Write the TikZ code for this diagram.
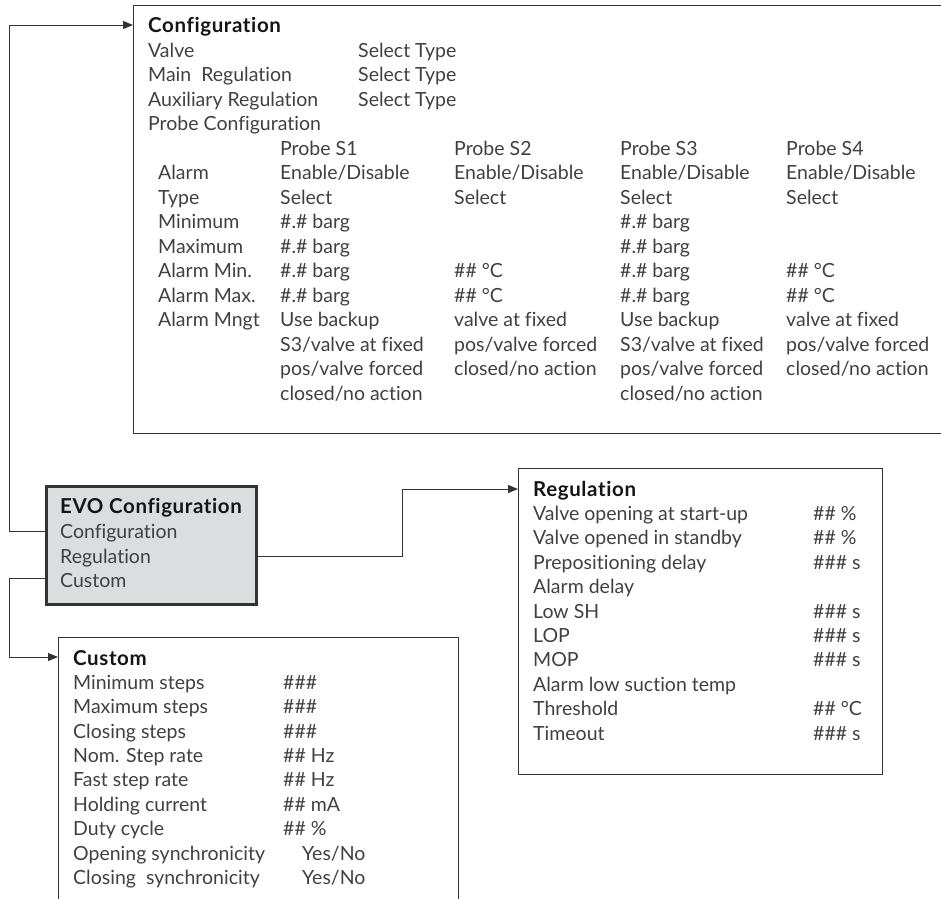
\documentclass[tikz,border=0pt]{standalone}
\usepackage{fontspec}
\setmainfont{Lato}[Ligatures=NoCommon]
\newfontfamily\ttlfont[LetterSpace=3,Ligatures=NoCommon]{Lato}
\usetikzlibrary{arrows.meta}
\definecolor{txt}{HTML}{404040}
\definecolor{ttlc}{HTML}{151515}
\definecolor{linec}{HTML}{333333}
\definecolor{boxfill}{HTML}{DCDDDF}
\begin{document}
\begin{tikzpicture}[x=1pt,y=-1pt,
  lbl/.style={anchor=base west, inner sep=0pt, text=txt, font=\fontsize{19.5}{21}\selectfont},
  ttl/.style={anchor=base west, inner sep=0pt, text=ttlc, font=\ttlfont\fontsize{20.5}{22}\selectfont\bfseries},
  panel/.style={draw=linec, line width=1pt, anchor=north west, inner sep=0pt},
  evobox/.style={panel, fill=boxfill, line width=2.5pt},
  conn/.style={draw=linec, line width=1pt, -{Triangle[length=10pt,width=8pt]}},
  ]
\useasboundingbox (0,0) rectangle (941,898);
\clip (0,0) rectangle (941,898);

% boxes
\node[panel, minimum width=827pt, minimum height=428pt] (cfg) at (133,5) {};
\node[evobox, minimum width=210pt, minimum height=118pt] (evo) at (45,485) {};
\node[panel, minimum width=364pt, minimum height=306pt] (reg) at (518,468) {};
\node[panel, minimum width=400pt, minimum height=300pt] (cus) at (58,637) {};

% connectors
\coordinate (j1) at (9,531); \coordinate (j2) at (9,25);
\draw[conn] (evo.west |- j1) -- (j1) -- (j2) -- (cfg.west |- j2);
\coordinate (j3) at (402,556); \coordinate (j4) at (402,489);
\draw[conn] (evo.east |- j3) -- (j3) -- (j4) -- (reg.west |- j4);
\coordinate (j5) at (9,578); \coordinate (j6) at (9,657);
\draw[conn] (evo.west |- j5) -- (j5) -- (j6) -- (cus.west |- j6);

% EVO
\node[ttl] (e0) at (60,513) {EVO Configuration};
\node[lbl] (e1) at (60,538) {Configuration};
\node[lbl] (e2) at (60,563) {Regulation};
\node[lbl] (e3) at (60,587) {Custom};

% Configuration
\node[ttl] (c0) at (148,32) {Configuration};
\node[lbl] (c1) at (148,57) {Valve};
\node[lbl] (c1v) at (358,57) {Select Type};
\node[lbl] (c2) at (148,81.5) {Main\ \ Regulation};
\node[lbl] (c2v) at (358,81.5) {Select Type};
\node[lbl] (c3) at (148,106) {Auxiliary Regulation};
\node[lbl] (c3v) at (358,106) {Select Type};
\node[lbl] (c4) at (148,130.5) {Probe Configuration};

\node[lbl] (p1) at (280,155) {Probe S1};
\node[lbl] (p2) at (454,155) {Probe S2};
\node[lbl] (p3) at (620,155) {Probe S3};
\node[lbl] (p4) at (786,155) {Probe S4};

\node[lbl] (r1) at (158,179.5) {Alarm};
\node[lbl] (r1a) at (280,179.5) {Enable/Disable};
\node[lbl] (r1b) at (454,179.5) {Enable/Disable};
\node[lbl] (r1c) at (620,179.5) {Enable/Disable};
\node[lbl] (r1d) at (786,179.5) {Enable/Disable};

\node[lbl] (r2) at (158,204) {Type};
\node[lbl] (r2a) at (280,204) {Select};
\node[lbl] (r2b) at (454,204) {Select};
\node[lbl] (r2c) at (620,204) {Select};
\node[lbl] (r2d) at (786,204) {Select};

\node[lbl] (r3) at (158,228.5) {Minimum};
\node[lbl] (r3a) at (280,228.5) {\#.\# barg};
\node[lbl] (r3c) at (620,228.5) {\#.\# barg};

\node[lbl] (r4) at (158,253) {Maximum};
\node[lbl] (r4a) at (280,253) {\#.\# barg};
\node[lbl] (r4c) at (620,253) {\#.\# barg};

\node[lbl] (r5) at (158,277.5) {Alarm Min.};
\node[lbl] (r5a) at (280,277.5) {\#.\# barg};
\node[lbl] (r5b) at (454,277.5) {\#\# °C};
\node[lbl] (r5c) at (620,277.5) {\#.\# barg};
\node[lbl] (r5d) at (786,277.5) {\#\# °C};

\node[lbl] (r6) at (158,302) {Alarm Max.};
\node[lbl] (r6a) at (280,302) {\#.\# barg};
\node[lbl] (r6b) at (454,302) {\#\# °C};
\node[lbl] (r6c) at (620,302) {\#.\# barg};
\node[lbl] (r6d) at (786,302) {\#\# °C};

\node[lbl] (r7) at (158,326.5) {Alarm Mngt};
\node[lbl] (r7a) at (280,326.5) {Use backup};
\node[lbl] (r7b) at (454,326.5) {valve at fixed};
\node[lbl] (r7c) at (620,326.5) {Use backup};
\node[lbl] (r7d) at (786,326.5) {valve at fixed};

\node[lbl] (r8a) at (280,351) {S3/valve at fixed};
\node[lbl] (r8b) at (454,351) {pos/valve forced};
\node[lbl] (r8c) at (620,351) {S3/valve at fixed};
\node[lbl] (r8d) at (786,351) {pos/valve forced};

\node[lbl] (r9a) at (280,375.5) {pos/valve forced};
\node[lbl] (r9b) at (454,375.5) {closed/no action};
\node[lbl] (r9c) at (620,375.5) {pos/valve forced};
\node[lbl] (r9d) at (786,375.5) {closed/no action};

\node[lbl] (r10a) at (280,400) {closed/no action};
\node[lbl] (r10c) at (620,400) {closed/no action};

% Regulation
\node[ttl] (g0) at (533,496) {Regulation};
\node[lbl] (g1) at (533,520) {Valve opening at start-up};
\node[lbl] (g1v) at (813,520) {\#\# \%};
\node[lbl] (g2) at (533,544.5) {Valve opened in standby};
\node[lbl] (g2v) at (813,544.5) {\#\# \%};
\node[lbl] (g3) at (533,569) {Prepositioning delay};
\node[lbl] (g3v) at (813,569) {\#\#\# s};
\node[lbl] (g4) at (533,593) {Alarm delay};
\node[lbl] (g5) at (533,618) {Low SH};
\node[lbl] (g5v) at (813,618) {\#\#\# s};
\node[lbl] (g6) at (533,642) {LOP};
\node[lbl] (g6v) at (813,642) {\#\#\# s};
\node[lbl] (g7) at (533,666.5) {MOP};
\node[lbl] (g7v) at (813,666.5) {\#\#\# s};
\node[lbl] (g8) at (533,691) {Alarm low suction temp};
\node[lbl] (g9) at (533,715) {Threshold};
\node[lbl] (g9v) at (813,715) {\#\# °C};
\node[lbl] (g10) at (533,740) {Timeout};
\node[lbl] (g10v) at (813,740) {\#\#\# s};

% Custom
\node[ttl] (u0) at (73,665) {Custom};
\node[lbl] (u1) at (73,689) {Minimum steps};
\node[lbl] (u1v) at (283,689) {\#\#\#};
\node[lbl] (u2) at (73,713.5) {Maximum steps};
\node[lbl] (u2v) at (283,713.5) {\#\#\#};
\node[lbl] (u3) at (73,738) {Closing steps};
\node[lbl] (u3v) at (283,738) {\#\#\#};
\node[lbl] (u4) at (73,762) {Nom. Step rate};
\node[lbl] (u4v) at (283,762) {\#\# Hz};
\node[lbl] (u5) at (73,786.5) {Fast step rate};
\node[lbl] (u5v) at (283,786.5) {\#\# Hz};
\node[lbl] (u6) at (73,811) {Holding current};
\node[lbl] (u6v) at (283,811) {\#\# mA};
\node[lbl] (u7) at (73,835) {Duty cycle};
\node[lbl] (u7v) at (283,835) {\#\# \%};
\node[lbl] (u8) at (73,860) {Opening synchronicity};
\node[lbl] (u8v) at (302,860) {Yes/No};
\node[lbl] (u9) at (73,884.5) {Closing\ \ synchronicity};
\node[lbl] (u9v) at (302,884.5) {Yes/No};
\end{tikzpicture}
\end{document}
